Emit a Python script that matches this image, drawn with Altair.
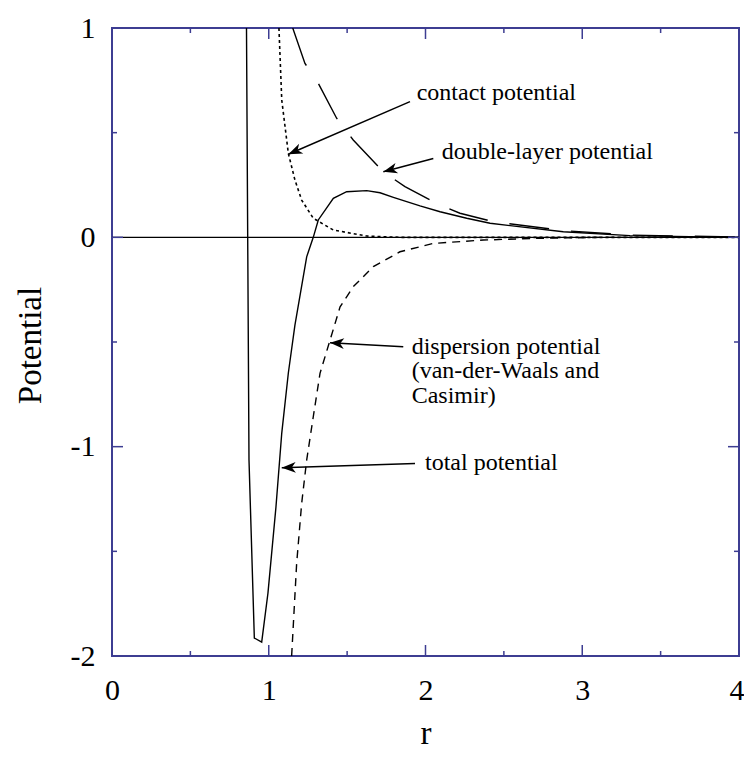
import math
import altair as alt
import pandas as pd

# ---------------- data ----------------
total_r = [0.858, 0.874, 0.908, 0.955, 0.995, 1.046, 1.083, 1.125, 1.167, 1.242, 1.284,
           1.316, 1.412, 1.497, 1.625, 1.710, 1.795, 1.965, 2.093, 2.263, 2.412, 2.879,
           3.305, 3.879, 4.0]
total_v = [1.0, -1.064, -1.914, -1.934, -1.699, -1.288, -0.935, -0.648, -0.419, -0.093, 0.0,
           0.083, 0.186, 0.218, 0.223, 0.213, 0.191, 0.150, 0.122, 0.091, 0.067, 0.027,
           0.008, 0.001, 0.0]

contact_r = [1.065, 1.083, 1.125, 1.167, 1.210, 1.284, 1.412, 1.625, 1.837, 4.0]
contact_v = [1.0, 0.656, 0.401, 0.274, 0.178, 0.091, 0.035, 0.006, 0.0, 0.0]

double_r = [1.153, 1.231, 1.316, 1.433, 1.539, 1.731, 1.869, 2.093, 2.220, 2.433, 2.879,
            3.305, 4.0]
double_v = [1.0, 0.831, 0.736, 0.569, 0.465, 0.313, 0.242, 0.154, 0.115, 0.075, 0.032,
            0.011, 0.001]

disp_r = [1.146, 1.178, 1.210, 1.242, 1.284, 1.327, 1.391, 1.455, 1.539, 1.667, 1.837,
          2.050, 2.369, 2.686, 3.113, 4.0]
disp_v = [-2.0, -1.558, -1.271, -1.064, -0.857, -0.650, -0.491, -0.332, -0.236, -0.140,
          -0.069, -0.029, -0.013, -0.005, 0.0, 0.0]

x_labels = [0, 1, 2, 3, 4]
y_labels = [-2, -1, 0, 1]
x_major = [0, 1, 2, 3, 4]
x_minor = [0.5, 1.5, 2.5, 3.5]
y_major = [-2, -1, 0, 1]
y_minor = [-1.5, -0.5, 0.5]

# annotations: label lines, label anchor, arrow start and arrow tip (data units)
label_text = ["contact potential", "double-layer potential", "dispersion potential",
              "(van-der-Waals and", "Casimir)", "total potential"]
label_r = [1.944, 2.103, 1.912, 1.912, 1.912, 1.997]
label_v = [0.688, 0.409, -0.523, -0.638, -0.756, -1.080]

arrow_r0 = [1.901, 2.050, 1.858, 1.933]
arrow_v0 = [0.648, 0.377, -0.523, -1.080]
arrow_r1 = [1.125, 1.731, 1.391, 1.083]
arrow_v1 = [0.397, 0.313, -0.504, -1.101]

# ---------------- styling ----------------
W, H = 627, 628
FONT = "Liberation Serif"
FRAME = "#3d3d92"
XD = [0, 4]
YD = [-2, 1]
xs = alt.Scale(domain=XD, nice=False, zero=False)
ys = alt.Scale(domain=YD, nice=False, zero=False)
PX_X = W / (XD[1] - XD[0])
PX_Y = H / (YD[1] - YD[0])

LAST_X = "datum.value == %s" % x_labels[-1]
XA = alt.Axis(values=x_labels, labelExpr="'' + datum.value", labelFont=FONT,
              labelFontSize=30, labelColor="black", ticks=False, tickSize=0,
              domain=False, grid=False, labelPadding=19, labelFlush=False,
              labelOverlap=False,
              labelAlign={"condition": {"test": LAST_X, "value": "right"}, "value": "center"},
              labelOffset={"condition": {"test": LAST_X, "value": 5}, "value": 0},
              title="r", titleFont=FONT, titleFontSize=33,
              titleFontWeight="normal", titleColor="black", titleX=W / 2,
              titleY=87, titleBaseline="alphabetic", titleAlign="center")
YA = alt.Axis(values=y_labels, labelExpr="'' + datum.value", labelFont=FONT,
              labelFontSize=30, labelColor="black", ticks=False, tickSize=0,
              domain=False, grid=False, labelPadding=17, labelFlush=False,
              labelOverlap=False, title="Potential", titleFont=FONT,
              titleFontSize=33, titleFontWeight="normal", titleColor="black",
              titleAngle=270, titleX=-72, titleY=317,
              titleBaseline="alphabetic", titleAlign="center")


def X(field):
    return alt.X(field, scale=xs, axis=XA, title="r")


def Y(field):
    return alt.Y(field, scale=ys, axis=YA, title="Potential")


def curve(r, v, dash=None, width=1.4):
    df = pd.DataFrame({"r": r, "v": v, "i": list(range(len(r)))})
    kw = dict(color="black", strokeWidth=width, clip=True)
    if dash:
        kw["strokeDash"] = dash
    return alt.Chart(df).mark_line(**kw).encode(x=X("r:Q"), y=Y("v:Q"), order="i:Q")


def tick_rules(vals, side, length):
    df = pd.DataFrame({"t": vals})
    base = alt.Chart(df).mark_rule(color=FRAME, strokeWidth=1.5)
    if side == "bottom":
        return base.encode(x=X("t:Q"), y=alt.value(H), y2=alt.value(H - length))
    if side == "top":
        return base.encode(x=X("t:Q"), y=alt.value(0), y2=alt.value(length))
    if side == "left":
        return base.encode(y=Y("t:Q"), x=alt.value(0), x2=alt.value(length))
    return base.encode(y=Y("t:Q"), x=alt.value(W), x2=alt.value(W - length))


layers = []
zero_df = pd.DataFrame({"v": [0]})
layers.append(alt.Chart(zero_df).mark_rule(color="black", strokeWidth=1.3).encode(
    y=Y("v:Q")))

layers.append(curve(total_r, total_v))
layers.append(curve(contact_r, contact_v, dash=[3, 3], width=1.6))
layers.append(curve(double_r, double_v, dash=[40, 22]))
layers.append(curve(disp_r, disp_v, dash=[8, 6]))

for side in ["bottom", "top"]:
    layers.append(tick_rules(x_major, side, 11))
    layers.append(tick_rules(x_minor, side, 5))
for side in ["left", "right"]:
    layers.append(tick_rules(y_major, side, 11))
    layers.append(tick_rules(y_minor, side, 5))

# arrows
angles = []
for a, b, c, d in zip(arrow_r0, arrow_v0, arrow_r1, arrow_v1):
    dx = (c - a) * PX_X
    dy = -(d - b) * PX_Y
    angles.append(math.degrees(math.atan2(dy, dx)) % 360)
arrow_df = pd.DataFrame({"r0": arrow_r0, "v0": arrow_v0, "r1": arrow_r1,
                         "v1": arrow_v1, "ang": angles})
layers.append(alt.Chart(arrow_df).mark_rule(color="black", strokeWidth=1.5).encode(
    x=X("r0:Q"), y=Y("v0:Q"), x2="r1:Q", y2="v1:Q"))
HEAD = "M0,0L-1,-0.38L-0.72,0L-1,0.38Z"
layers.append(alt.Chart(arrow_df).mark_point(
    shape=HEAD, filled=True, size=784, color="black", opacity=1, strokeWidth=0).encode(
    x=X("r1:Q"), y=Y("v1:Q"), angle=alt.Angle("ang:Q", scale=None)))

label_df = pd.DataFrame({"r": label_r, "v": label_v, "t": label_text})
layers.append(alt.Chart(label_df).mark_text(
    align="left", baseline="middle", font=FONT, fontSize=24, color="black").encode(
    x=X("r:Q"), y=Y("v:Q"), text="t:N"))

chart = alt.layer(*layers).properties(
    width=W, height=H,
    autosize=alt.AutoSizeParams(type="none"),
    padding={"left": 104, "top": 20, "right": 5, "bottom": 100},
    background="white",
).configure_view(stroke=FRAME, strokeWidth=2)

chart.save("out.html", embed_options={"renderer": "svg", "actions": False})
